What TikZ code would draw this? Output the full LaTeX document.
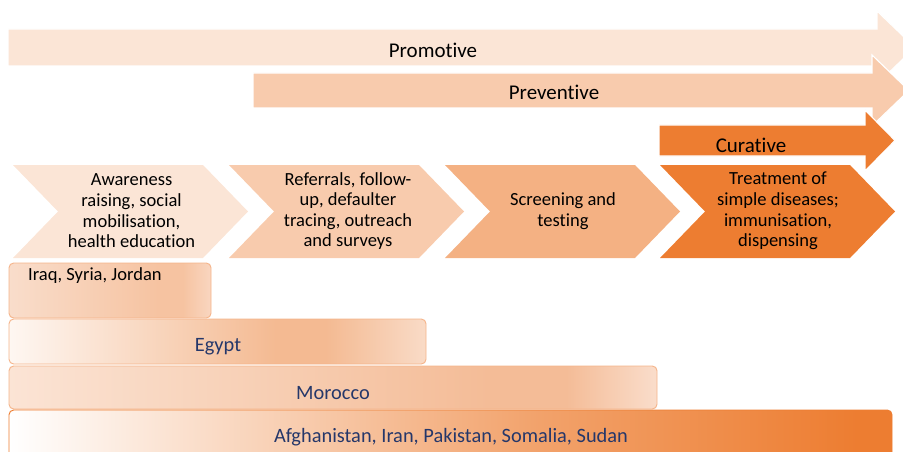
\documentclass[tikz,border=0pt]{standalone}
\usepackage{fontspec}
\setmainfont{Carlito}[RawFeature={-liga;-clig;-calt;-dlig}]

\definecolor{promofill}{HTML}{FBE5D6}
\definecolor{prevfill}{HTML}{F8CBAD}
\definecolor{curefill}{HTML}{ED7D31}
\definecolor{chevone}{HTML}{FBE5D6}
\definecolor{chevtwo}{HTML}{F8CBAD}
\definecolor{chevthree}{HTML}{F4B183}
\definecolor{chevfour}{HTML}{ED7D31}
\definecolor{boxline}{HTML}{F5B48A}
\definecolor{navytext}{HTML}{25376A}

% country bands: light at left, darker towards the right
\definecolor{iraqa}{HTML}{F9DDCB}
\definecolor{iraqb}{HTML}{F6C3A1}
\definecolor{iraqc}{HTML}{F9D6C0}
\definecolor{egypta}{HTML}{FEF7F2}
\definecolor{egyptb}{HTML}{F4BA92}
\definecolor{egyptc}{HTML}{F9DBC7}
\definecolor{moroa}{HTML}{FBE4D5}
\definecolor{morob}{HTML}{F4BC97}
\definecolor{moroc}{HTML}{FADDCB}
\definecolor{afgha}{HTML}{FFFFFF}
\definecolor{afghb}{HTML}{F2A26B}
\definecolor{afghc}{HTML}{ED7D31}

\pgfdeclarehorizontalshading{iraqshade}{100bp}{color(0bp)=(iraqa); color(25bp)=(iraqa); color(62bp)=(iraqb); color(68bp)=(iraqb); color(75bp)=(iraqc); color(100bp)=(iraqc)}
\pgfdeclarehorizontalshading{egyptshade}{100bp}{color(0bp)=(egypta); color(25bp)=(egypta); color(57bp)=(egyptb); color(63bp)=(egyptb); color(75bp)=(egyptc); color(100bp)=(egyptc)}
\pgfdeclarehorizontalshading{moroshade}{100bp}{color(0bp)=(moroa); color(25bp)=(moroa); color(62bp)=(morob); color(68bp)=(morob); color(75bp)=(moroc); color(100bp)=(moroc)}
\pgfdeclarehorizontalshading{afghshade}{100bp}{color(0bp)=(afgha); color(25bp)=(afgha); color(55bp)=(afghb); color(73bp)=(afghc); color(100bp)=(afghc)}

\begin{document}
\begin{tikzpicture}[x=0.03cm, y=-0.03cm,
    band/.style={draw=white, line width=1pt},
    toplabel/.style={anchor=base, inner sep=0pt, font=\fontsize{17.9}{20}\selectfont},
    chevtext/.style={align=center, inner sep=0pt, font=\fontsize{15.8}{17.6}\selectfont},
    country/.style={rounded corners=4pt, draw=boxline, line width=0.8pt},
    countrytext/.style={anchor=base, inner sep=0pt, text=navytext, font=\fontsize{17.4}{20}\selectfont}]

  \useasboundingbox (0,0) rectangle (903,452);
  \clip (0,0) rectangle (903,452);

  % big arrows
  \filldraw[band, fill=promofill] (8,29) -- (877,29) -- (877,11) -- (915,47.5) -- (877,84) -- (877,66) -- (8,66) -- cycle;
  \filldraw[band, fill=prevfill] (253,73) -- (872,73) -- (872,55) -- (909,90.5) -- (872,126) -- (872,108) -- (253,108) -- cycle;
  \filldraw[band, fill=curefill] (659,125) -- (865,125) -- (865,110) -- (895,140.5) -- (865,171) -- (865,156) -- (659,156) -- cycle;

  \node[toplabel] (promo) at (433,58) {Promotive};
  \node[toplabel] (prevent) at (554,100) {Preventive};
  \node[toplabel] (cure) at (751,153) {Curative};

  % chevrons
  \foreach \x/\c in {13/chevone, 229/chevtwo, 445/chevthree, 660/chevfour}
    \fill[\c] (\x,165) -- ++(190,0) -- ++(45,46.5) -- ++(-45,46.5) -- ++(-190,0) -- ++(45,-46.5) -- cycle;

  \node[chevtext] (aware) at (131.5,211) {Awareness\\raising, social\\mobilisation,\\health education};
  \node[chevtext] (refer) at (348,211) {Referrals, follow-\\up, defaulter\\tracing, outreach\\and surveys};
  \node[chevtext] (screen) at (563,211) {Screening and\\testing};
  \node[chevtext] (treat) at (778,211) {Treatment of\\simple diseases;\\immunisation,\\dispensing};

  % countries
  \draw[country, shading=iraqshade] (9,263) rectangle (211,318);
  \draw[country, shading=egyptshade] (9,319) rectangle (426,364);
  \draw[country, shading=moroshade] (9,366) rectangle (657,409);
  \draw[country, draw=curefill, shading=afghshade] (9,410) rectangle (892,470);

  \node[countrytext, anchor=base west, text=black, font=\fontsize{15.8}{18}\selectfont] (iraq) at (28,280) {Iraq, Syria, Jordan};
  \node[countrytext] (egypt) at (218,351) {Egypt};
  \node[countrytext] (morocco) at (333,399.5) {Morocco};
  \node[countrytext] (afghan) at (451,442.5) {Afghanistan, Iran, Pakistan, Somalia, Sudan};
\end{tikzpicture}
\end{document}
